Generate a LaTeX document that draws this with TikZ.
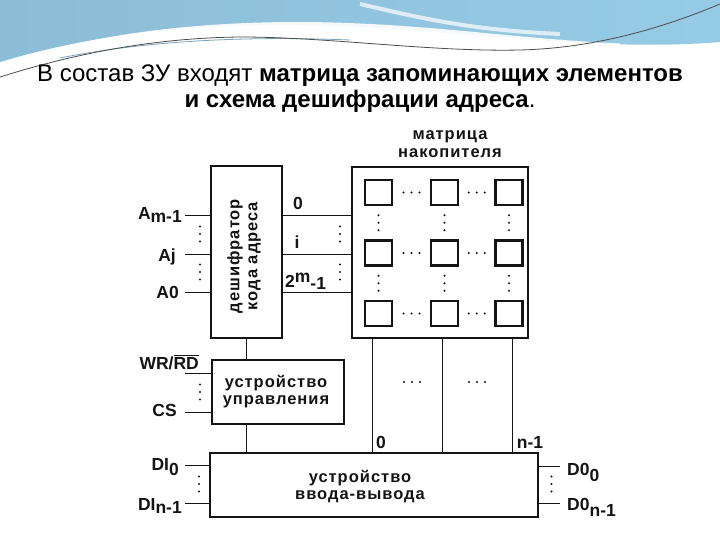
\documentclass[tikz,border=0pt]{standalone}
\usepackage{fontspec}
\setmainfont{Liberation Sans}
\usetikzlibrary{calc}
\definecolor{bgA}{RGB}{140,189,214}
\definecolor{bgB}{RGB}{218,227,233}
\definecolor{bgC}{RGB}{150,203,230}
\definecolor{ink}{RGB}{20,20,20}
\tikzset{
  box/.style={draw=ink, line width=2pt, fill=white, inner sep=0pt},
  cell/.style={draw=ink, line width=2.4pt, minimum width=27pt, minimum height=25pt, inner sep=0pt},
  wire/.style={draw=ink, line width=1pt},
  lbl/.style={font=\fontsize{17.5}{19}\selectfont\bfseries, inner sep=0pt, text=ink},
  btxt/.style={font=\fontsize{16.5}{17}\selectfont\bfseries\addfontfeatures{LetterSpace=6}, inner sep=0pt, text=ink, align=center},
  ttl/.style={font=\fontsize{24}{26}\selectfont, inner sep=0pt, text=black},
  hdots/.pic={\foreach \i in {-8,0,8} \fill[ink] (\i,0) circle (1.1);},
  vdots/.pic={\foreach \i in {-7.5,0,7.5} \fill[ink] (0,\i) circle (1.1);},
}
\begin{document}
\begin{tikzpicture}[x=1pt,y=-1pt]
\useasboundingbox (0,0) rectangle (720,540);
\fill[white] (0,0) rectangle (720,540);
% decorative header
\shade[left color=bgA, middle color=bgB, right color=bgC]
  (0,0) -- (720,0) -- (720,42) .. controls (600,52) and (480,32) .. (340,26)
  .. controls (200,20) and (90,35) .. (0,62) -- cycle;
\draw[white, line width=9pt, opacity=0.9] (0,70) .. controls (100,34) and (230,22) .. (360,28) .. controls (450,32) and (530,44) .. (620,48);
\draw[white, line width=4pt, opacity=0.7] (360,4) .. controls (420,18) and (470,30) .. (560,34);
\draw[bgC!80!black, line width=0.8pt] (60,58) .. controls (150,40) and (250,36) .. (350,40);
\draw[black!70, line width=0.8pt] (0,77) .. controls (70,55) and (150,38) .. (240,37)
  .. controls (330,37) and (430,52) .. (520,50) .. controls (600,48) and (670,25) .. (720,4);
% title
\node[ttl, anchor=base] (t1) at (360,82) {В состав ЗУ входят \textbf{матрица запоминающих элементов}};
\node[ttl, anchor=base] (t2) at (360,108) {\textbf{и схема дешифрации адреса}.};

% boxes
\node[box, minimum width=71pt, minimum height=172pt] (dec) at (246.5,252) {};
\node[btxt, rotate=90, font=\fontsize{16.5}{18}\selectfont\bfseries\addfontfeatures{LetterSpace=6}] (dectxt) at (244,256) {дешифратор\\кода адреса};
\node[box, minimum width=176pt, minimum height=171pt] (mat) at (440,252.5) {};
\node[btxt, font=\fontsize{16.5}{18.5}\selectfont\bfseries\addfontfeatures{LetterSpace=6}] (mt) at (450,144) {матрица\\накопителя};
\node[box, minimum width=132pt, minimum height=64pt] (ctl) at (277.5,391.5) {};
\node[btxt] (ct) at (276,392) {устройство\\управления};
\node[box, minimum width=328pt, minimum height=64pt] (io) at (374,484.5) {};
\node[btxt] (it) at (360,487) {устройство\\ввода-вывода};

% cells
\foreach \c/\x in {1/378.5,2/444.5,3/509}
  \foreach \r/\y in {1/192.5,2/253,3/313.5}
    \node[cell] (c\r\c) at (\x,\y) {};
\foreach \r in {1,2,3} {
  \pic at ($(c\r1.east)!0.5!(c\r2.west)$) {hdots};
  \pic at ($(c\r2.east)!0.5!(c\r3.west)$) {hdots};
}
\foreach \c in {1,2,3} {
  \pic at ($(c1\c.south)!0.5!(c2\c.north)$) {vdots};
  \pic at ($(c2\c.south)!0.5!(c3\c.north)$) {vdots};
}

% address inputs
\coordinate (am) at (185,216);
\coordinate (aj) at (185,254);
\coordinate (a0) at (185,292);
\draw[wire] (am) -- (am -| dec.west);
\draw[wire] (aj) -- (aj -| dec.west);
\draw[wire] (a0) -- (a0 -| dec.west);
\node[lbl, anchor=base east] (lam) at (182,220) {A\raisebox{-2pt}{m-1}};
\node[lbl, anchor=base east] (laj) at (176,261) {Aj};
\node[lbl, anchor=base east] (la0) at (179,298) {A0};
\pic at (200,234) {vdots};
\pic at (200,272) {vdots};

% decoder outputs
\draw[wire] (am -| dec.east) -- (am -| mat.west);
\draw[wire] (aj -| dec.east) -- (aj -| mat.west);
\draw[wire] (a0 -| dec.east) -- (a0 -| mat.west);
\node[lbl, anchor=base] (o0) at (298,210) {0};
\node[lbl, anchor=base] (oi) at (297,248) {i};
\node[lbl, anchor=base west] (om) at (285,287) {2\raisebox{5pt}{m}\raisebox{-2pt}{-1}};
\pic at (340,234) {vdots};
\pic at (340,272) {vdots};

% control
\draw[wire] (dec.south -| 246.7,0) -- (ctl.north -| 246.7,0);
\coordinate (wr) at (185,373);
\coordinate (cs) at (185,412);
\draw[wire] (wr) -- (wr -| ctl.west);
\draw[wire] (cs) -- (cs -| ctl.west);
\node[lbl, anchor=base east] (lwr) at (199,369) {WR/$\overline{\mbox{RD}}$};
\node[lbl, anchor=base east] (lcs) at (177,416) {CS};
\pic at (200,392) {vdots};
\draw[wire] (ctl.south -| 246.7,0) -- (io.north -| 246.7,0);

% data
\coordinate (di0) at (185,465);
\coordinate (din) at (185,503);
\draw[wire] (di0) -- (di0 -| io.west);
\draw[wire] (din) -- (din -| io.west);
\node[lbl, anchor=base east] (ldi0) at (179,470) {DI\raisebox{-5pt}{0}};
\node[lbl, anchor=base east] (ldin) at (182,510) {DI\raisebox{-3pt}{n-1}};
\pic at (199,484) {vdots};
\coordinate (do0) at (560,466);
\coordinate (don) at (560,503);
\draw[wire] (do0 -| io.east) -- (do0);
\draw[wire] (don -| io.east) -- (don);
\node[lbl, anchor=base west] (ldo0) at (567,475) {D0\raisebox{-6pt}{0}};
\node[lbl, anchor=base west] (ldon) at (567,510) {D0\raisebox{-6pt}{n-1}};
\pic at (551.5,484) {vdots};

% bit lines
\foreach \x in {372.3,442.3,512.3}
  \draw[wire] (mat.south -| \x,0) -- (io.north -| \x,0);
\node[lbl, anchor=base] (lb0) at (381,448) {0};
\node[lbl, anchor=base] (lbn) at (530,448) {n-1};
\pic at (412,382) {hdots};
\pic at (477,382) {hdots};
\end{tikzpicture}
\end{document}
